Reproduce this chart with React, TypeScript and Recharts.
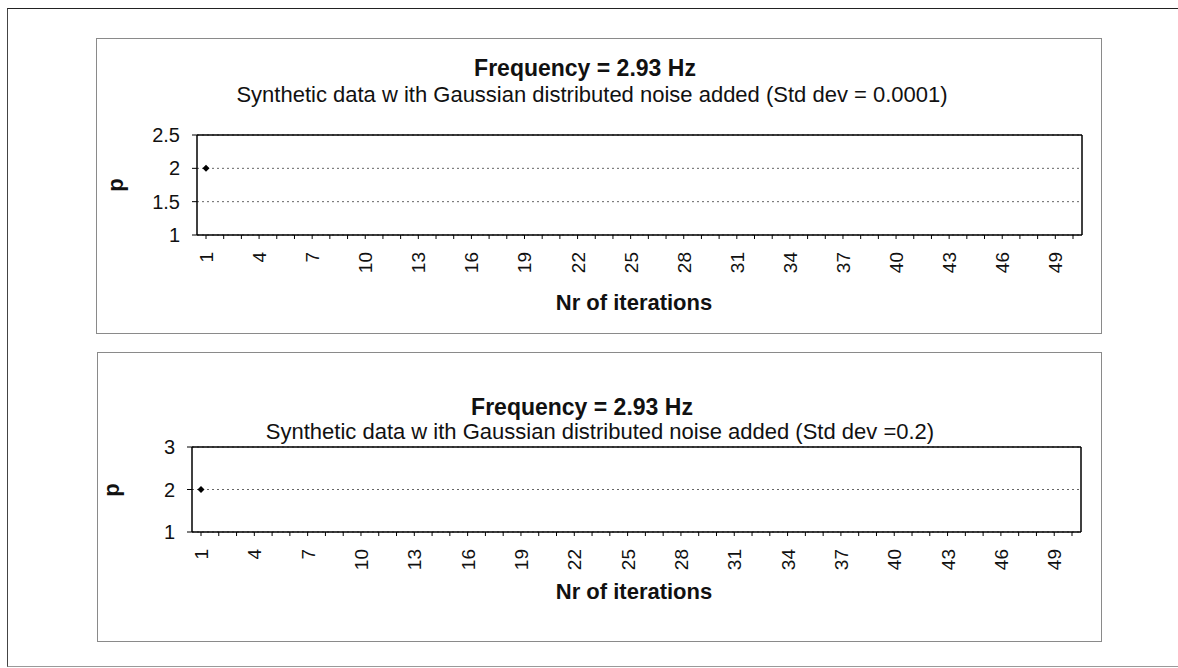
import React from "react";
import { LineChart, Line, XAxis, YAxis, CartesianGrid } from "recharts";

const iterations = [
  1, 2, 3, 4, 5, 6, 7, 8, 9, 10, 11, 12, 13, 14, 15, 16, 17, 18, 19, 20, 21, 22, 23, 24, 25,
  26, 27, 28, 29, 30, 31, 32, 33, 34, 35, 36, 37, 38, 39, 40, 41, 42, 43, 44, 45, 46, 47, 48, 49, 50,
];
const pTop: (number | null)[] = [
  2, null, null, null, null, null, null, null, null, null, null, null, null, null, null, null, null,
  null, null, null, null, null, null, null, null, null, null, null, null, null, null, null, null, null,
  null, null, null, null, null, null, null, null, null, null, null, null, null, null, null, null,
];
const pBottom: (number | null)[] = [
  2, null, null, null, null, null, null, null, null, null, null, null, null, null, null, null, null,
  null, null, null, null, null, null, null, null, null, null, null, null, null, null, null, null, null,
  null, null, null, null, null, null, null, null, null, null, null, null, null, null, null, null,
];
const yTicksTop = [1, 1.5, 2, 2.5];
const yTicksBottom = [1, 2, 3];
const titleText = "Frequency = 2.93 Hz";
const subTop = "Synthetic data w ith Gaussian distributed noise added (Std dev = 0.0001)";
const subBottom = "Synthetic data w ith Gaussian distributed noise added (Std dev =0.2)";
const xTitle = "Nr of iterations";
const yTitle = "p";

const FONT = "'Liberation Sans', Arial, sans-serif";

const XTick = (props: any) => {
  const { x, y, payload, index } = props;
  if (index % 3 !== 0) return null;
  return (
    <text
      x={x + 7}
      y={y}
      transform={`rotate(-90 ${x + 7} ${y})`}
      textAnchor="end"
      fontSize={19}
      fontFamily={FONT}
      fill="#111"
    >
      {payload.value}
    </text>
  );
};

const Diamond = (props: any) => {
  const { cx, cy, value } = props;
  if (value == null || cx == null || cy == null) return <g />;
  const s = 3.5;
  return <path d={`M${cx},${cy - s}L${cx + s},${cy}L${cx},${cy + s}L${cx - s},${cy}Z`} fill="#000" />;
};

type PanelProps = {
  left: number;
  top: number;
  width: number;
  height: number;
  values: (number | null)[];
  yTicks: number[];
  subtitle: string;
  margin: { top: number; right: number; left: number; bottom: number };
  yAxisWidth: number;
  xAxisHeight: number;
  titleY: number;
  titleX: number;
  subY: number;
  subX: number;
  xLabelY: number;
  xLabelX: number;
  pX: number;
  pY: number;
};

const Panel = (p: PanelProps) => {
  const data = iterations.map((it, i) => ({ iter: it, p: p.values[i] }));
  const textStyle = (cx: number, cy: number): React.CSSProperties => ({
    position: "absolute",
    left: cx - 500,
    width: 1000,
    top: cy - 13,
    textAlign: "center",
    fontFamily: FONT,
    fontSize: 22,
    lineHeight: "26px",
    color: "#111",
    whiteSpace: "nowrap",
  });
  const lo = p.yTicks[0];
  const hi = p.yTicks[p.yTicks.length - 1];
  return (
    <div
      style={{
        position: "absolute",
        left: p.left,
        top: p.top,
        width: p.width,
        height: p.height,
        border: "1px solid #8a8a8a",
        background: "#fff",
      }}
    >
      <LineChart width={p.width} height={p.height} data={data} margin={p.margin}>
        <CartesianGrid horizontal vertical={false} stroke="#666" strokeDasharray="2 3" />
        <XAxis
          dataKey="iter"
          type="category"
          interval={0}
          height={p.xAxisHeight}
          padding={{ left: 9, right: 9 }}
          tick={<XTick />}
          tickSize={4}
          tickMargin={13}
          axisLine={{ stroke: "#000", strokeWidth: 1.5 }}
          tickLine={{ stroke: "#000" }}
        />
        <XAxis
          xAxisId="top"
          dataKey="iter"
          type="category"
          orientation="top"
          height={1}
          tick={false}
          tickLine={false}
          axisLine={{ stroke: "#000", strokeWidth: 1.5 }}
        />
        <YAxis
          type="number"
          domain={[lo, hi]}
          ticks={p.yTicks}
          width={p.yAxisWidth}
          tickSize={5}
          tickMargin={12}
          tick={{ fontSize: 20, fontFamily: FONT, fill: "#111" }}
          axisLine={{ stroke: "#000", strokeWidth: 1.5 }}
          tickLine={{ stroke: "#000" }}
        />
        <YAxis
          yAxisId="right"
          orientation="right"
          type="number"
          domain={[lo, hi]}
          width={1}
          tick={false}
          tickLine={false}
          axisLine={{ stroke: "#000", strokeWidth: 1.5 }}
        />
        <Line
          dataKey="p"
          stroke="none"
          isAnimationActive={false}
          dot={<Diamond />}
          activeDot={false}
          connectNulls={false}
        />
      </LineChart>
      <div style={{ ...textStyle(p.titleX, p.titleY), fontWeight: "bold", fontSize: 23 }}>{titleText}</div>
      <div style={textStyle(p.subX, p.subY)}>{p.subtitle}</div>
      <div style={{ ...textStyle(p.xLabelX, p.xLabelY), fontWeight: "bold" }}>{xTitle}</div>
      <div
        style={{
          position: "absolute",
          left: p.pX - 12,
          top: p.pY - 12,
          width: 24,
          height: 24,
          lineHeight: "24px",
          textAlign: "center",
          fontFamily: FONT,
          fontSize: 22,
          fontWeight: "bold",
          transform: "rotate(-90deg)",
          color: "#111",
        }}
      >
        {yTitle}
      </div>
    </div>
  );
};

export default function App() {
  return (
    <div style={{ position: "fixed", left: 0, top: 0, width: 1178, height: 668, background: "#fff", overflow: "hidden" }}>
      <div
        style={{
          position: "absolute",
          left: 7,
          top: 8,
          width: 1180,
          height: 657,
          borderTop: "1.5px solid #222",
          borderLeft: "1.5px solid #444",
          borderBottom: "1px solid #999",
        }}
      />
      <Panel
        left={96}
        top={38}
        width={1004}
        height={294}
        values={pTop}
        yTicks={yTicksTop}
        subtitle={subTop}
        margin={{ top: 95, right: 18, left: 0, bottom: 0 }}
        yAxisWidth={100}
        xAxisHeight={98}
        titleY={29}
        titleX={488}
        subY={56}
        subX={495}
        xLabelY={264}
        xLabelX={537}
        pX={19}
        pY={146}
      />
      <Panel
        left={97}
        top={352}
        width={1003}
        height={288}
        values={pBottom}
        yTicks={yTicksBottom}
        subtitle={subBottom}
        margin={{ top: 93, right: 19, left: 0, bottom: 0 }}
        yAxisWidth={94}
        xAxisHeight={109}
        titleY={54}
        titleX={484}
        subY={79}
        subX={502}
        xLabelY={239}
        xLabelX={536}
        pX={14}
        pY={137}
      />
    </div>
  );
}
